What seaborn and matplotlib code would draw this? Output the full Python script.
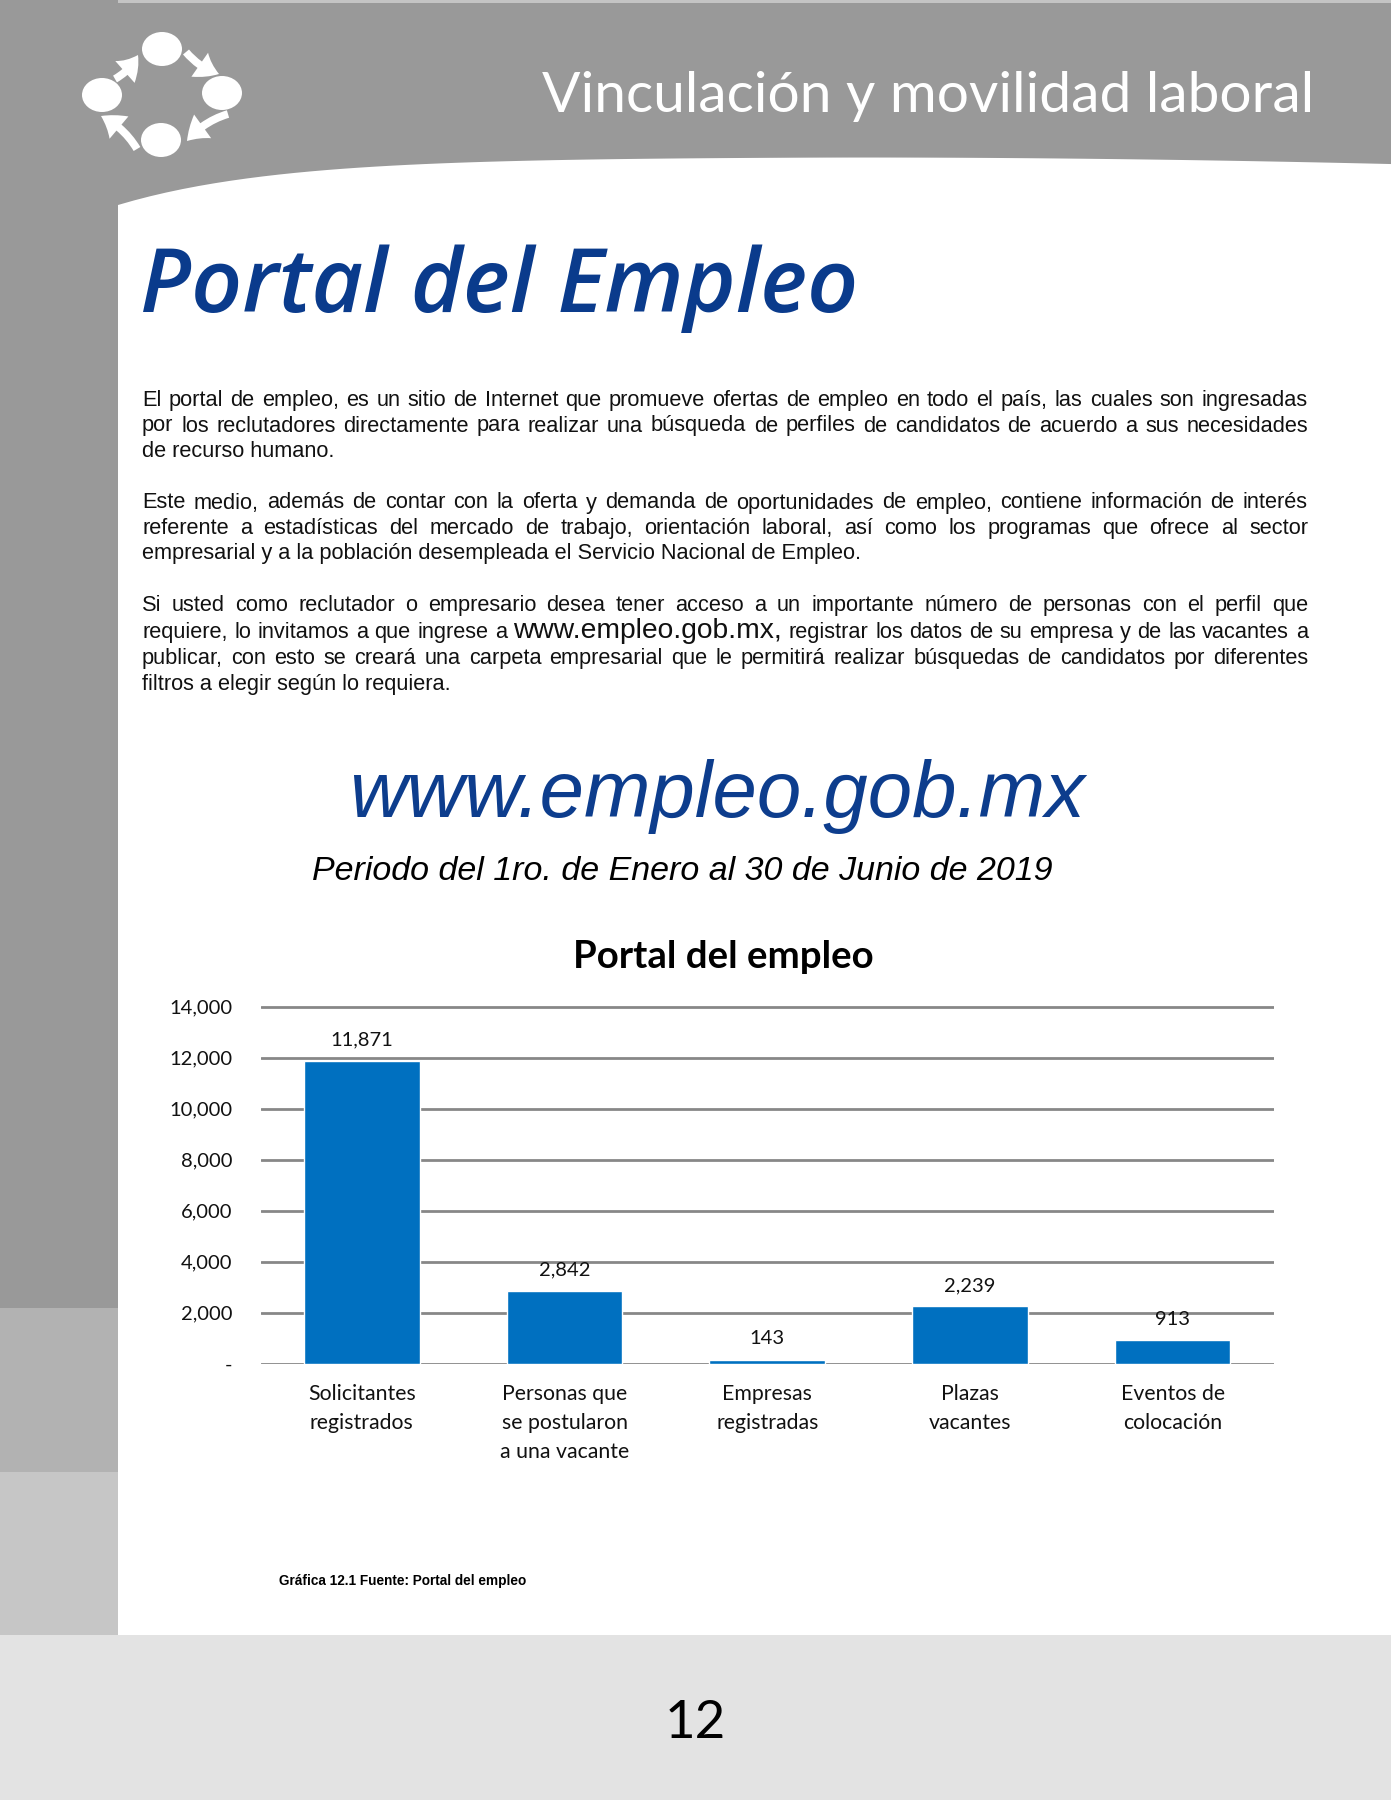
import numpy as np
import pandas as pd
import matplotlib
matplotlib.use("Agg")
import matplotlib.pyplot as plt
import seaborn as sns
from matplotlib.patches import Rectangle, Polygon, Ellipse, FancyArrowPatch

# datos de la grafica
categorias = ["Solicitantes\nregistrados", "Personas que\nse postularon\na una vacante",
              "Empresas\nregistradas", "Plazas\nvacantes", "Eventos de\ncolocación"]
valores = [11871, 2842, 143, 2239, 913]
ticks_y = [0, 2000, 4000, 6000, 8000, 10000, 12000, 14000]
etiquetas_y = ["-", "2,000", "4,000", "6,000", "8,000", "10,000", "12,000", "14,000"]

# textos de la pagina
encabezado = "Vinculación y movilidad laboral"
titulo = "Portal del Empleo"
parrafos = [
    ["El portal de empleo, es un sitio de Internet que promueve ofertas de empleo en todo el país, las cuales son ingresadas",
     "por los reclutadores directamente para realizar una búsqueda de perfiles de candidatos de acuerdo a sus necesidades",
     "de recurso humano."],
    ["Este medio,  además de contar con la oferta y demanda de oportunidades de empleo, contiene información de interés",
     "referente a estadísticas del mercado de trabajo, orientación laboral, así como los programas que ofrece al sector",
     "empresarial y a la población desempleada el Servicio Nacional de Empleo."],
    ["Si usted como reclutador o empresario desea tener acceso a un importante número de personas con el perfil que",
     "requiere, lo invitamos a que ingrese a www.empleo.gob.mx, registrar los datos de su empresa y de las vacantes a",
     "publicar, con esto se creará una carpeta empresarial que le permitirá realizar búsquedas de candidatos por diferentes",
     "filtros a elegir según lo requiera."],
]
baselines = [[406, 431.5, 457], [508.5, 534, 559], [611, 638, 664, 690]]
url = "www.empleo.gob.mx"
periodo = "Periodo del 1ro. de Enero al 30 de Junio de 2019"
titulo_grafica = "Portal del empleo"
fuente = "Gráfica 12.1 Fuente: Portal del empleo"
pagina = "12"

W, H = 1391, 1800
gris = "#999999"
azul_osc = "#0a3b8c"
azul_bar = "#0070c0"

sns.set_style("white")
fig = plt.figure(figsize=(13.91, 18), dpi=100)
bg = fig.add_axes([0, 0, 1, 1])
bg.set_xlim(0, W)
bg.set_ylim(H, 0)
bg.axis("off")
renderer = fig.canvas.get_renderer()


def ancho(t):
    return t.get_window_extent(renderer).width


def texto_ajustado(x, y, s, ancho_obj, ha="left", **kw):
    t = bg.text(x, y, s, ha=ha, va="baseline", fontsize=40, **kw)
    t.set_fontsize(40 * ancho_obj / ancho(t))
    return t


# fondo: barra lateral, franjas y encabezado curvo
bg.add_patch(Rectangle((0, 0), 118, 1308, color=gris, lw=0))
bg.add_patch(Rectangle((0, 1308), 118, 164, color="#b2b2b2", lw=0))
bg.add_patch(Rectangle((0, 1472), 118, 163, color="#c6c6c6", lw=0))
bg.add_patch(Rectangle((0, 1635), W, H - 1635, color="#e3e3e3", lw=0))
xs = np.linspace(118, W, 80)
ys = 157 + 48 * np.exp(-(xs - 118) / 160) + 7 * np.clip((xs - 800) / 590, 0, None) ** 2
curva = np.column_stack([xs, ys])
poly = np.vstack([[[118, 0], [W, 0]], curva[::-1]])
bg.add_patch(Polygon(poly, closed=True, color=gris, lw=0))
bg.add_patch(Rectangle((118, 0), W - 118, 3, color="#c4c4c4", lw=0))

# logo
for cx, cy in [(162, 49), (222, 93), (161, 140), (102, 95)]:
    bg.add_patch(Ellipse((cx, cy), 40, 34, color="white", lw=0))
for (x0, y0), (x1, y1) in [((115, 79), (138, 55)), ((186, 52), (219, 74)),
                           ((228, 114), (187, 141)), ((137, 149), (101, 116))]:
    bg.add_patch(FancyArrowPatch((x0, y0), (x1, y1), color="white", lw=0,
                                 arrowstyle="simple,head_width=1.5,head_length=1.1,tail_width=0.4",
                                 mutation_scale=14, connectionstyle="arc3,rad=0.15",
                                 shrinkA=0, shrinkB=0))

texto_ajustado(1314, 112, encabezado, 771, ha="right", color="white", family="Lato")
texto_ajustado(140, 312, titulo, 718, color=azul_osc, family="Open Sans",
               fontweight="semibold", fontstyle="italic")

# cuerpo de texto justificado
X0, X1 = 142, 1308
fam = "Liberation Sans"
prueba = [l for p in parrafos for l in p[:-1] if url not in l]
fs0 = 14
escalas = []
for l in prueba:
    t = bg.text(0, 0, l, fontsize=fs0, family=fam)
    escalas.append((X1 - X0) / ancho(t))
    t.remove()
fs = fs0 * min(escalas) * 0.99

for lineas, ys_p in zip(parrafos, baselines):
    for i, (linea, y) in enumerate(zip(lineas, ys_p)):
        if i == len(lineas) - 1:
            bg.text(X0, y, linea, fontsize=fs, family=fam, va="baseline", color="#111111")
            continue
        palabras = linea.split()
        objs = []
        for w in palabras:
            size = fs * 1.3 if w.startswith("www.") else fs
            objs.append(bg.text(0, y, w, fontsize=size, family=fam, va="baseline",
                                color="#111111"))
        anchos = [ancho(t) for t in objs]
        gap = (X1 - X0 - sum(anchos)) / (len(objs) - 1)
        x = X0
        for t, w in zip(objs, anchos):
            t.set_x(x)
            x += w + gap

texto_ajustado(717, 817, url, 735, ha="center", color="#0d3d8d", family="Liberation Sans",
               fontstyle="italic")
texto_ajustado(312, 880, periodo, 739, color="black", family="Liberation Sans",
               fontstyle="italic")
texto_ajustado(723, 968, titulo_grafica, 301, ha="center", color="black", family="Lato",
               fontweight="bold")
texto_ajustado(279, 1585, fuente, 247, color="black", family="Liberation Sans",
               fontweight="bold")
bg.text(695, 1738, pagina, ha="center", va="baseline", fontsize=38, family="Lato",
        color="black")

# grafica de barras
izq, der, cero, tope = 260.5, 1274, 1363.5, 1006.5
ax = fig.add_axes([izq / W, 1 - cero / H, (der - izq) / W, (cero - tope) / H])
ax.patch.set_alpha(0)
df = pd.DataFrame({"categoria": categorias, "valor": valores})
sns.barplot(data=df, x="categoria", y="valor", color=azul_bar, saturation=1,
            width=0.57, errorbar=None, ax=ax, zorder=3)
ax.set_ylim(0, 14000)
ax.set_xlim(-0.5, len(categorias) - 0.5)
ax.set_yticks(ticks_y, labels=etiquetas_y)
ax.set_xlabel("")
ax.set_ylabel("")
ax.grid(axis="y", color="#878787", lw=2)
ax.set_axisbelow(True)
sns.despine(ax=ax, left=True, bottom=True)
ax.tick_params(axis="both", length=0)
ax.tick_params(axis="y", pad=20)
ax.tick_params(axis="x", pad=15)
for lab in ax.get_yticklabels():
    lab.set_family("Lato")
    lab.set_fontsize(14.5)
    lab.set_color("#111111")
for lab in ax.get_xticklabels():
    lab.set_family("Lato")
    lab.set_fontsize(15.3)
    lab.set_color("#111111")
    lab.set_linespacing(1.55)
ax.bar_label(ax.containers[0], labels=[f"{v:,}" for v in valores], padding=9,
             fontsize=14.5, family="Lato", color="#111111")

fig.savefig("out.png", dpi=100)
